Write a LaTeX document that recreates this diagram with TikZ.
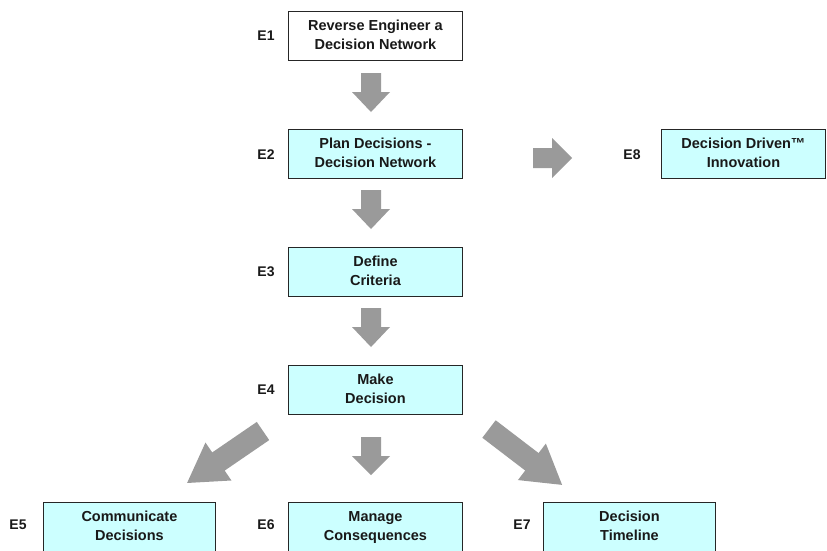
\documentclass[tikz,border=0pt]{standalone}
\usepackage{fontspec}
\setmainfont{Liberation Sans}
\definecolor{stagefill}{HTML}{CCFFFF}
\definecolor{arrowgray}{HTML}{9A9A9A}
\begin{document}
\begin{tikzpicture}[x=1pt, y=-1pt,
  stagebox/.style={draw=black!85, line width=0.9pt, fill=#1, minimum width=174pt,
    minimum height=49pt, inner sep=0pt, align=center, anchor=north west,
    font=\bfseries\fontsize{14.5}{19}\selectfont, text=black!90},
  stagebox/.default={stagefill},
  steptag/.style={font=\bfseries\fontsize{14}{15}\selectfont, text=black!90},
  pics/blockarrow/.style n args={4}{code={
    \fill[arrowgray] (0,-#2) -- (#1-#4,-#2) -- (#1-#4,-#3) -- (#1,0)
      -- (#1-#4,#3) -- (#1-#4,#2) -- (0,#2) -- cycle;}}]
\useasboundingbox (0,0) rectangle (827,550);
\clip (0,0) rectangle (827,550);

% stages
\node[stagebox=white] (e1) at (288,11) {Reverse Engineer a\strut\\Decision Network\strut};
\node[stagebox] (e2) at (288,129) {Plan Decisions -\strut\\Decision Network\strut};
\node[stagebox, minimum width=164pt] (e8) at (661,129) {Decision Driven™\strut\\Innovation\strut};
\node[stagebox] (e3) at (288,247) {Define\strut\\Criteria\strut};
\node[stagebox] (e4) at (288,365) {Make\strut\\Decision\strut};
\node[stagebox, minimum width=172pt] (e5) at (43,502) {Communicate\strut\\Decisions\strut};
\node[stagebox] (e6) at (288,502) {Manage\strut\\Consequences\strut};
\node[stagebox, minimum width=172pt] (e7) at (543,502) {Decision\strut\\Timeline\strut};

% stage tags
\node[steptag] (t1) at (266,36) {E1};
\node[steptag] (t2) at (266,155) {E2};
\node[steptag] (t8) at (632,155) {E8};
\node[steptag] (t3) at (266,272) {E3};
\node[steptag] (t4) at (266,390) {E4};
\node[steptag] (t5) at (18,525) {E5};
\node[steptag] (t6) at (266,525) {E6};
\node[steptag] (t7) at (522,525) {E7};

% block arrows between stages
\pic[rotate=-90] at (371,73) {blockarrow={39}{10}{19}{20}};
\pic[rotate=-90] at (371,190) {blockarrow={39}{10}{19}{20}};
\pic[rotate=-90] at (371,308) {blockarrow={39}{10}{19}{20}};
\pic[rotate=-90] at (371,437) {blockarrow={38}{10}{19}{19}};
\pic at (533,158) {blockarrow={39}{10}{20}{20}};
\pic[rotate=214.4] at (263,431) {blockarrow={92}{11}{23}{38}};
\pic[rotate=-37.4] at (489,429) {blockarrow={92}{11}{23}{38}};
\end{tikzpicture}
\end{document}
